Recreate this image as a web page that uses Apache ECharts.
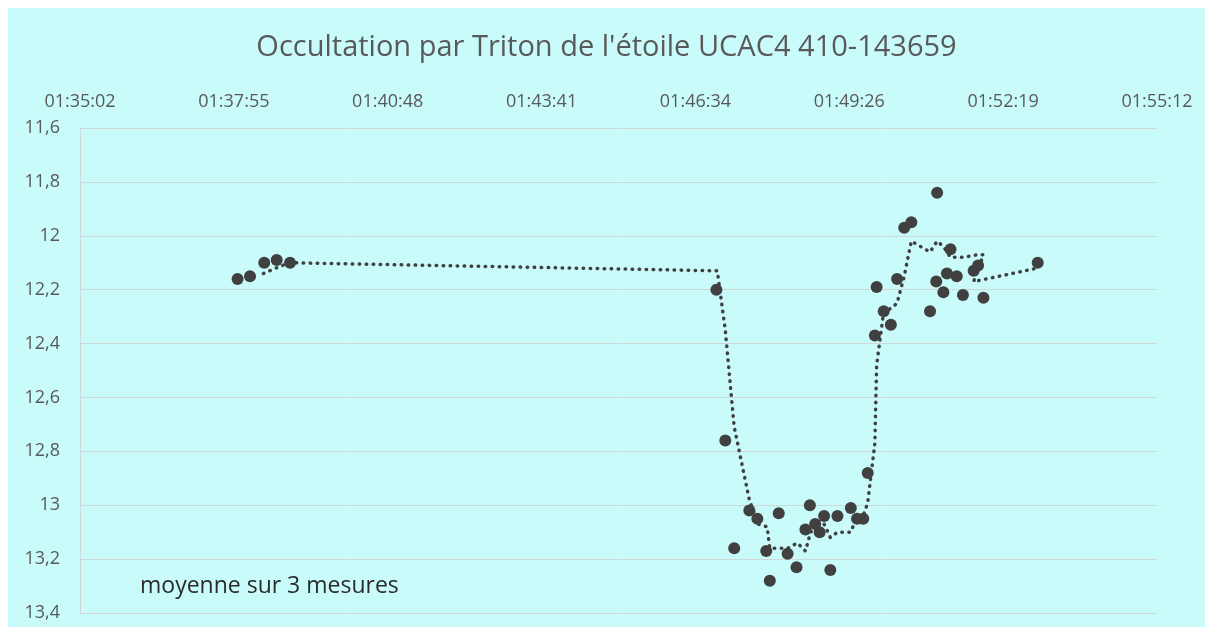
<!DOCTYPE html>
<html>
<head>
<meta charset="utf-8">
<title>Occultation par Triton</title>
<script src="https://cdn.jsdelivr.net/npm/echarts@6/dist/echarts.min.js"></script>
<style>
  html, body { margin: 0; padding: 0; background: #ffffff; }
  #chart { position: absolute; left: 8px; top: 8px; width: 1197px; height: 619px; background: #c9fbfb; }
</style>
</head>
<body>
<div id="chart"></div>
<script>
// temps en secondes depuis 01:35:02, magnitude mesurée
const mesuresT = [177, 191, 207, 221, 236, 715, 725, 735, 752, 761, 771, 775, 785, 795, 805, 815, 820, 826, 831, 836, 843, 851, 866, 873, 880, 885, 893, 895, 903, 911, 918, 926, 934, 955, 962, 963, 970, 974, 978, 985, 992, 1004, 1009, 1015, 1076]
const mesuresMag = [12.16, 12.15, 12.10, 12.09, 12.10, 12.20, 12.76, 13.16, 13.02, 13.05, 13.17, 13.28, 13.03, 13.18, 13.23, 13.09, 13.00, 13.07, 13.10, 13.04, 13.24, 13.04, 13.01, 13.05, 13.05, 12.88, 12.37, 12.19, 12.28, 12.33, 12.16, 11.97, 11.95, 12.28, 12.17, 11.84, 12.21, 12.14, 12.05, 12.15, 12.22, 12.13, 12.11, 12.23, 12.10]

// courbe de tendance (moyenne mobile)
const moyenneT = [206, 220, 235, 716, 725, 735, 752, 762, 772, 775, 785, 795, 806, 815, 820, 826, 831, 836, 843, 851, 866, 873, 880, 885, 893, 895, 903, 911, 918, 926, 934, 955, 963, 970, 978, 992, 1009, 1015, 1004, 1076]
const moyenneMag = [12.14, 12.12, 12.10, 12.13, 12.35, 12.71, 12.98, 13.07, 13.08, 13.16, 13.16, 13.16, 13.14, 13.17, 13.11, 13.06, 13.06, 13.07, 13.12, 13.10, 13.10, 13.04, 13.04, 12.99, 12.77, 12.48, 12.28, 12.27, 12.25, 12.15, 12.02, 12.06, 12.02, 12.04, 12.08, 12.08, 12.07, 12.07, 12.17, 12.12]

const xTickLabels = ['01:35:02', '01:37:55', '01:40:48', '01:43:41', '01:46:34', '01:49:26', '01:52:19', '01:55:12']
const yTickLabels = ['11,6', '11,8', '12', '12,2', '12,4', '12,6', '12,8', '13', '13,2', '13,4']

const xSpan = 1210
const xStep = xSpan / (xTickLabels.length - 1)
const yMin = 11.6
const yStep = 0.2

const textColor = '#595959'
const pointColor = '#404040'
const fontFam = '"Open Sans", "Noto Sans", sans-serif'

let chart = echarts.init(document.getElementById('chart'))

let options = {
  animation: false,
  textStyle: { fontFamily: fontFam },
  title: {
    text: "Occultation par Triton de l'étoile UCAC4 410-143659",
    left: 'center',
    top: 20,
    textStyle: { color: textColor, fontSize: 29, fontWeight: 'normal', fontFamily: fontFam }
  },
  grid: { left: 72, right: 48, top: 120, bottom: 14 },
  xAxis: {
    type: 'value',
    position: 'top',
    min: 0,
    max: xSpan,
    interval: xStep,
    axisLine: { show: false },
    axisTick: { show: false },
    splitLine: { show: false },
    axisLabel: {
      color: textColor,
      fontSize: 18,
      margin: 17,
      formatter: function (v) {
        return xTickLabels[Math.round(v / xStep)] || ''
      }
    }
  },
  yAxis: {
    type: 'value',
    inverse: true,
    min: yMin,
    max: 13.4,
    interval: yStep,
    axisLine: { show: true, lineStyle: { color: '#d0d7d7', width: 1 } },
    axisTick: { show: false },
    splitLine: { show: true, lineStyle: { color: '#d0d7d7', width: 1 } },
    axisLabel: {
      color: textColor,
      fontSize: 18,
      margin: 20,
      formatter: function (v) {
        return yTickLabels[Math.round((v - yMin) / yStep)] || ''
      }
    }
  },
  graphic: [
    {
      type: 'text',
      left: 132,
      top: 567,
      style: { text: 'moyenne sur 3 mesures', fill: '#2b2b2b', font: '23px ' + fontFam }
    }
  ],
  series: [
    {
      name: 'moyenne',
      type: 'line',
      data: moyenneT.map((t, i) => [t, moyenneMag[i]]),
      showSymbol: false,
      symbol: 'none',
      lineStyle: { color: pointColor, width: 3.5, type: [0.5, 6.5], cap: 'round' },
      z: 3
    },
    {
      name: 'mesures',
      type: 'scatter',
      data: mesuresT.map((t, i) => [t, mesuresMag[i]]),
      symbol: 'circle',
      symbolSize: 12,
      itemStyle: { color: pointColor, opacity: 1 },
      z: 4
    }
  ]
}

chart.setOption(options)
window.addEventListener('resize', function () { chart.resize() })
</script>
</body>
</html>
